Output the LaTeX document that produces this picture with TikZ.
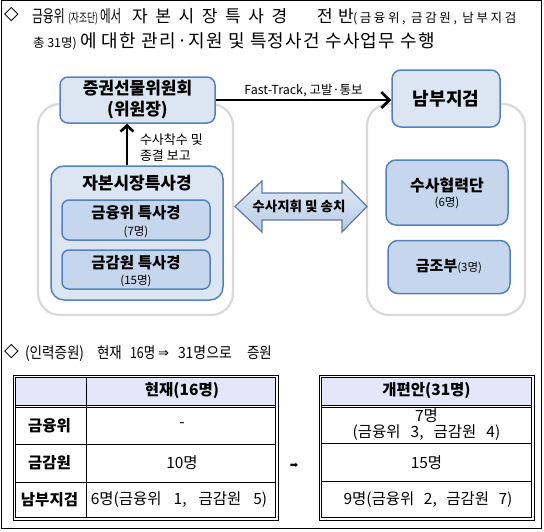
\documentclass[tikz,border=0pt]{standalone}
\usepackage{fontspec}
\usepackage{graphicx}
\setmainfont{Noto Sans CJK KR}
\newfontfamily\symfont{DejaVu Sans}
\usetikzlibrary{arrows.meta}
\newcommand\krfs[2]{\fontsize{#1}{#2}\selectfont}
\newcommand\krls[1]{\addfontfeature{LetterSpace=#1}}
\newcommand\hsq[1]{\scalebox{0.87}[1]{#1}}
\definecolor{boxline}{RGB}{84,130,190}
\definecolor{boxfill}{RGB}{220,230,242}
\definecolor{boxfillb}{RGB}{198,214,236}
\definecolor{greyline}{RGB}{217,217,217}
\definecolor{arrowline}{RGB}{92,122,162}
\definecolor{arrowtop}{RGB}{228,236,246}
\definecolor{arrowbot}{RGB}{182,202,229}
\definecolor{headfill}{RGB}{230,230,250}
\tikzset{
  txt/.style={inner sep=0pt, outer sep=0pt},
  bluebox/.style={draw=boxline, line width=1.5pt, fill=boxfill, inner sep=0pt},
  bluebox2/.style={bluebox, fill=boxfillb},
  greybox/.style={draw=greyline, line width=2.2pt, fill=white, rounded corners=22pt},
  conn/.style={line width=2.8pt, -{Straight Barb[length=8pt,width=16pt]}},
  connup/.style={line width=2.6pt, -{Straight Barb[length=6pt,width=13pt]}},
  tline/.style={line width=0.8pt},
  tbold/.style={txt, font=\krfs{15.5}{18}\bfseries},
  tnorm/.style={txt, font=\krfs{15.5}{18}},
  hbig/.style={txt, anchor=base west, font=\krfs{17}{19}},
  hbigb/.style={txt, anchor=base west, font=\krfs{18}{20}},
  hsmall/.style={txt, anchor=base west, font=\krfs{12.5}{14}},
  hsec/.style={txt, anchor=base west, font=\krfs{15.5}{18}},
}
\begin{document}
\begin{tikzpicture}[x=1pt,y=-1pt]
\useasboundingbox (0,0) rectangle (544,531);
% outer frame
\draw[line width=0.8pt] (1.5,0.5) rectangle (541,528);

% ---------- heading 1 ----------
\node[txt, font=\symfont\fontsize{19}{20}\selectfont] (d1) at (11.5,15) {◇};
\node[hbig] (h1a) at (32,22) {\scalebox{0.7}[1]{금융위}};
\node[hsmall] (h1b) at (68,22) {\scalebox{0.7}[1]{(자조단)}};
\node[hbig] (h1c) at (100,22) {\scalebox{0.68}[1]{에서}};
\node[hbig] (h1d) at (132,22) {\krls{45}자본시장특사경};
\node[hbig] (h1e) at (317,22) {\krls{33}전반};
\node[hsmall] (h1f) at (353,22) {\krls{21}(금융위, 금감원, 남부지검};
\node[hsmall] (h1g) at (33,47) {총 31명)};
\node[hbigb] (h1h) at (80,47) {\krls{7}에 대한 관리·지원 및 특정사건 수사업무 수행};

% ---------- diagram ----------
\draw[greybox] (38,104) rectangle (233,315);
\draw[greybox] (367,104) rectangle (525,315);

\node[bluebox, rounded corners=8pt, minimum width=155pt, minimum height=46pt,
      align=center, font=\krfs{17}{21}\bfseries] (jg) at (137.5,100) {증권선물위원회\\(위원장)};
\node[bluebox, rounded corners=9pt, minimum width=108pt, minimum height=57pt,
      font=\krfs{18}{22}\bfseries] (nb) at (446,98.5) {남부지검};

\node[bluebox, rounded corners=13pt, minimum width=172pt, minimum height=134pt] (jb) at (137,233) {};
\node[txt, font=\krfs{17}{20}\bfseries] (jbt) at (137,183) {자본시장특사경};
\node[bluebox2, rounded corners=7pt, minimum width=148pt, minimum height=40pt] (fsc) at (136,220) {};
\node[txt, font=\krfs{15.5}{18}\bfseries] (fsct) at (136,213) {금융위 특사경};
\node[txt, font=\krfs{11.5}{13}] (fscn) at (136,232) {(7명)};
\node[bluebox2, rounded corners=7pt, minimum width=148pt, minimum height=39pt] (fss) at (136,269.5) {};
\node[txt, font=\krfs{15.5}{18}\bfseries] (fsst) at (136,263) {금감원 특사경};
\node[txt, font=\krfs{11.5}{13}] (fssn) at (136,281) {(15명)};

\node[bluebox2, rounded corners=10pt, minimum width=122pt, minimum height=65pt] (sh) at (447,192.5) {};
\node[txt, font=\krfs{16}{18}\bfseries] (sht) at (447,185) {수사협력단};
\node[txt, font=\krfs{11.5}{13}] (shn) at (447,203) {(6명)};
\node[bluebox2, rounded corners=10pt, minimum width=122pt, minimum height=53pt,
      font=\krfs{15}{17}\bfseries] (gj) at (449,267) {금조부{\krfs{11.5}{13}\mdseries(3명)}};

% connectors
\draw[conn] (jg.east) -- (jg.east -| nb.west)
  node[midway, above=3pt, txt, font=\krfs{12.5}{15}] (ft) {Fast-Track, 고발·통보};
\draw[connup] ([xshift=-10pt]jb.north) -- ([xshift=-10pt]jb.north |- jg.south);
\node[txt, anchor=west, align=left, font=\krfs{13}{15.5}] (rep) at (140,147.5) {수사착수 및\\종결 보고};

% block double arrow
\path[draw=arrowline, line width=1.2pt, top color=arrowtop, bottom color=arrowbot, line join=miter]
  (235,206.5) -- (262,181) -- (262,193) -- (342,193) -- (342,181) -- (367,206.5)
  -- (342,232) -- (342,220) -- (262,220) -- (262,232) -- cycle;
\node[txt, font=\krfs{13.5}{16}\bfseries] (cmd) at (299,206.5) {수사지휘 및 송치};

% ---------- heading 2 ----------
\node[txt, font=\symfont\fontsize{19}{20}\selectfont] (d2) at (11.5,352) {◇};
\node[hsec] (h2a) at (25,358) {\scalebox{0.875}[1]{(인력증원)}};
\node[hsec] (h2b) at (97,358) {\hsq{현재}};
\node[hsec] (h2c) at (130,358) {\scalebox{0.8}[1]{16명}};
\node[txt, anchor=base west, font=\symfont\fontsize{13}{14}\selectfont] (h2d) at (158,357) {⇒};
\node[hsec] (h2e) at (178,358) {\scalebox{0.9}[1]{31명으로}};
\node[hsec] (h2f) at (247,358) {\hsq{증원}};

% ---------- left table ----------
\fill[headfill] (15.5,377.5) rectangle (275.5,405);
\draw[tline] (13,375) rectangle (278,520);
\draw[tline] (15.5,377.5) rectangle (275.5,517.5);
\draw[tline] (15.5,405) -- (275.5,405);
\draw[tline] (15.5,407.5) -- (275.5,407.5);
\draw[tline] (15.5,444) -- (275.5,444);
\draw[tline] (15.5,482) -- (275.5,482);
\draw[tline] (86,377.5) -- (86,517.5);
\node[tbold] (lh) at (182,391) {현재(16명)};
\node[tbold] (l1) at (49.5,425.5) {금융위};
\node[tbold] (l2) at (49.5,463) {금감원};
\node[tbold] (l3) at (49.5,500) {남부지검};
\node[tnorm] (v1) at (182,425.5) {-};
\node[tnorm] (v2) at (182,463) {10명};
\node[tnorm] (v3) at (179,500) {6명(금융위\hspace{12pt}1,\hspace{12pt}금감원\hspace{12pt}5)};

% arrow between tables
\node[txt, font=\symfont\fontsize{10}{12}\selectfont] (mid) at (294,466) {➡};

% ---------- right table ----------
\fill[headfill] (321.5,377.5) rectangle (531.5,405);
\draw[tline] (319,375) rectangle (534,520);
\draw[tline] (321.5,377.5) rectangle (531.5,517.5);
\draw[tline] (321.5,405) -- (531.5,405);
\draw[tline] (321.5,407.5) -- (531.5,407.5);
\draw[tline] (321.5,443.5) -- (531.5,443.5);
\draw[tline] (321.5,481.5) -- (531.5,481.5);
\node[tbold] (rh) at (426.5,391) {개편안(31명)};
\node[tnorm] (r1a) at (426.5,415.5) {7명};
\node[tnorm] (r1b) at (426.5,433) {(금융위\hspace{10pt}3,\hspace{10pt}금감원\hspace{10pt}4)};
\node[tnorm] (r2) at (426.5,463) {15명};
\node[tnorm] (r3) at (428,500) {9명(금융위\hspace{9.5pt}2,\hspace{9.5pt}금감원\hspace{9.5pt}7)};
\end{tikzpicture}
\end{document}
